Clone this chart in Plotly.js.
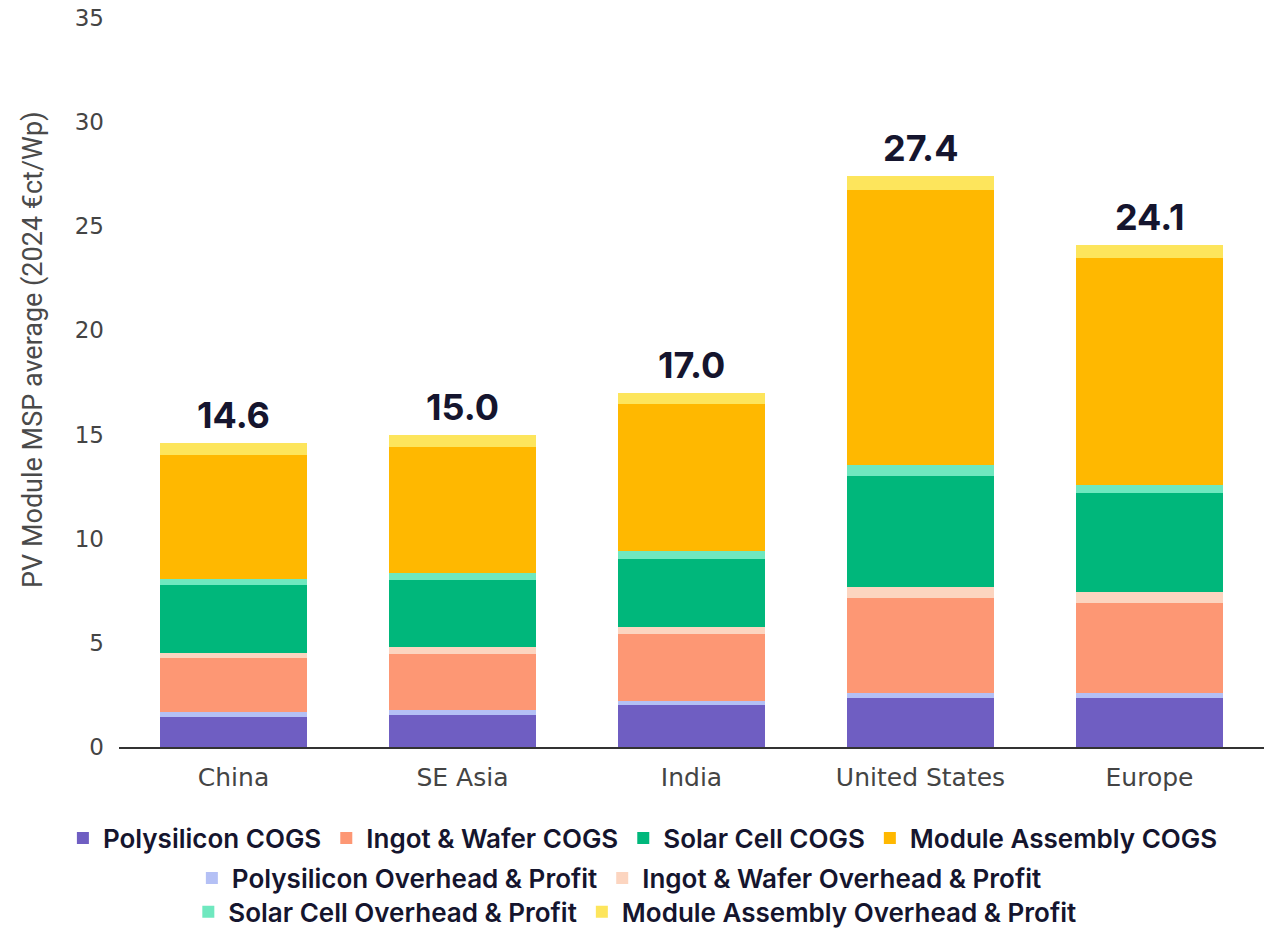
<!DOCTYPE html>
<html>
<head>
<meta charset="utf-8">
<script src="https://cdn.plot.ly/plotly-3.0.1.min.js"></script>
<style>html,body{margin:0;padding:0;background:#fff;}#chart{width:1281px;height:928px;}</style>
</head>
<body>
<div id="chart"></div>
<script>
const categories = ["China", "SE Asia", "India", "United States", "Europe"];
const totalLabels = ["14.6", "15.0", "17.0", "27.4", "24.1"];
const polyCogs   = [1.45, 1.56, 2.01, 2.33, 2.36];
const polyOH     = [0.21, 0.21, 0.21, 0.27, 0.24];
const ingotCogs  = [2.61, 2.71, 3.22, 4.53, 4.32];
const ingotOH    = [0.23, 0.32, 0.32, 0.54, 0.53];
const solarCogs  = [3.28, 3.22, 3.25, 5.33, 4.75];
const solarOH    = [0.29, 0.32, 0.40, 0.56, 0.40];
const moduleCogs = [5.95, 6.05, 7.04, 13.2, 10.9];
const moduleOH   = [0.58, 0.61, 0.55, 0.64, 0.60];

const series = [
  {name: "Polysilicon COGS", y: polyCogs, color: "#6f5ec2", legend: "legend", rank: 1},
  {name: "Polysilicon Overhead & Profit", y: polyOH, color: "#b4c0f5", legend: "legend2", rank: 5},
  {name: "Ingot & Wafer COGS", y: ingotCogs, color: "#fd9774", legend: "legend", rank: 2},
  {name: "Ingot & Wafer Overhead & Profit", y: ingotOH, color: "#fcd5c0", legend: "legend2", rank: 6},
  {name: "Solar Cell COGS", y: solarCogs, color: "#00b77b", legend: "legend", rank: 3},
  {name: "Solar Cell Overhead & Profit", y: solarOH, color: "#6fe8bf", legend: "legend3", rank: 7},
  {name: "Module Assembly COGS", y: moduleCogs, color: "#ffb800", legend: "legend", rank: 4},
  {name: "Module Assembly Overhead & Profit", y: moduleOH, color: "#fde55c", legend: "legend3", rank: 8}
];

const traces = series.map(s => ({
  type: "bar",
  x: categories,
  y: s.y,
  name: s.name,
  legend: s.legend,
  legendrank: s.rank,
  marker: {color: s.color, line: {width: 0}},
  hoverinfo: "name+y"
}));

const totals = categories.map((c, i) => series.reduce((a, s) => a + s.y[i], 0));

const annotations = categories.map((c, i) => ({
  x: c, y: totals[i], xref: "x", yref: "y",
  text: totalLabels[i], showarrow: false,
  yanchor: "bottom", yshift: 4,
  font: {family: "Inter, 'DejaVu Sans', sans-serif", size: 36, color: "#15152e", weight: 700}
}));

annotations.push({
  text: "PV Module MSP average (2024 €ct/Wp)",
  xref: "paper", yref: "paper",
  x: -0.0751, y: 0.5446, textangle: -90, showarrow: false,
  xanchor: "center", yanchor: "middle",
  font: {family: "Roboto, 'DejaVu Sans', sans-serif", size: 27, color: "#4a4a4a"}
});

const legendFont = {family: "Inter, 'DejaVu Sans', sans-serif", size: 26, color: "#15152e", weight: 600};
const legendBase = {orientation: "h", yanchor: "middle", font: legendFont, bgcolor: "rgba(0,0,0,0)", traceorder: "normal"};

const layout = {
  width: 1281, height: 928,
  margin: {l: 119, r: 17, t: 18, b: 181, autoexpand: false},
  paper_bgcolor: "#fff", plot_bgcolor: "#fff",
  barmode: "stack",
  bargap: 0.358,
  showlegend: true,
  font: {family: "Inter, 'DejaVu Sans', sans-serif"},
  xaxis: {
    type: "category",
    showline: true, linecolor: "#333", linewidth: 2,
    ticks: "", showgrid: false, zeroline: false,
    tickfont: {family: "'DejaVu Sans', sans-serif", size: 25, color: "#444"},
    ticklabelstandoff: 7
  },
  yaxis: {
    range: [0, 35], dtick: 5, tick0: 0,
    showgrid: false, zeroline: false, showline: false, ticks: "",
    tickfont: {family: "'DejaVu Sans', sans-serif", size: 23, color: "#444"},
    ticklabelstandoff: 14
  },
  legend: Object.assign({}, legendBase, {xanchor: "left", x: -0.049, y: -0.1248}),
  legend2: Object.assign({}, legendBase, {xanchor: "center", x: 0.437, y: -0.1797}),
  legend3: Object.assign({}, legendBase, {xanchor: "center", x: 0.4505, y: -0.2263}),
  annotations: annotations
};

Plotly.newPlot("chart", traces, layout, {displayModeBar: false, responsive: false});
</script>
</body>
</html>
